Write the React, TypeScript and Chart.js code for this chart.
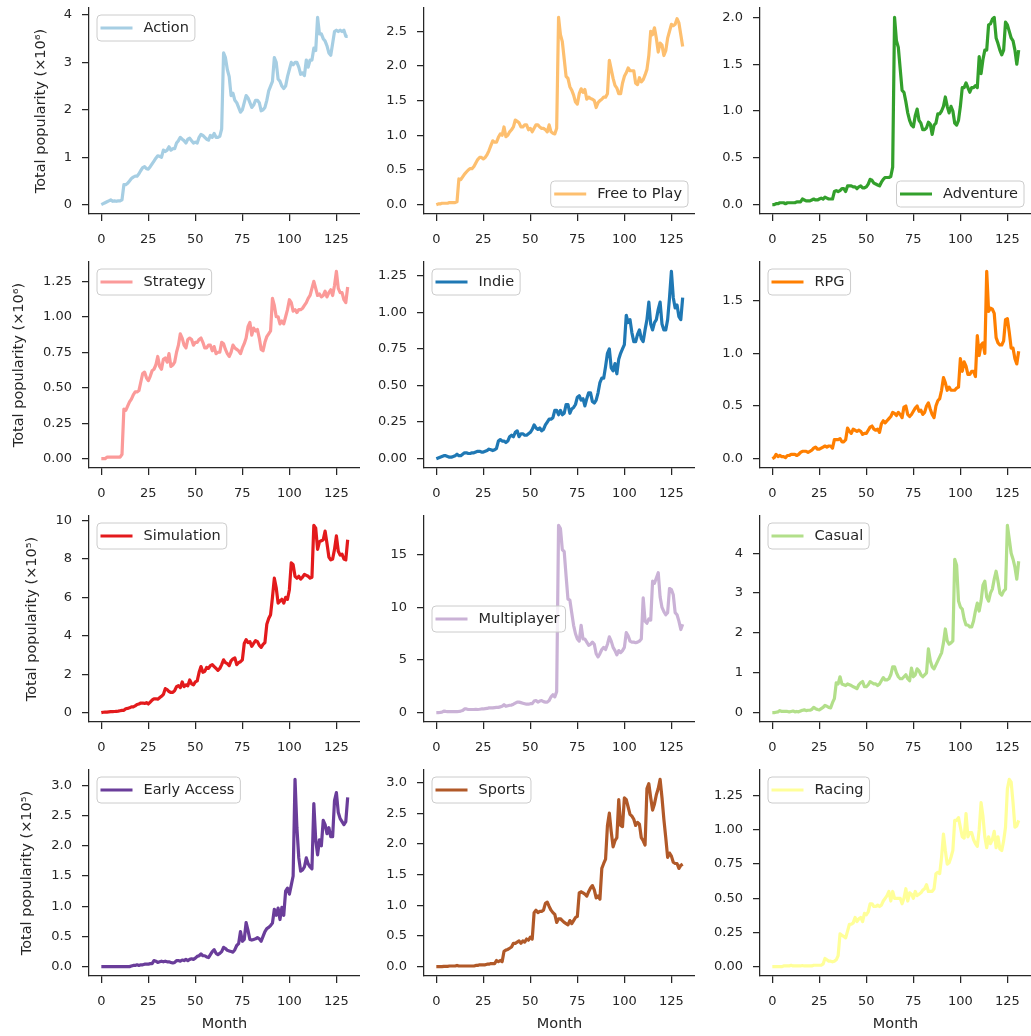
import React, { useEffect, useRef } from "react";
import { Chart, registerables } from "chart.js";

Chart.register(...registerables);

// ---------------- data ----------------
const MONTHS = Array.from({ length: 132 }, (_, i) => i);
const X_TICKS = [0, 25, 50, 75, 100, 125];

const GENRES = [
  "Action", "Free to Play", "Adventure",
  "Strategy", "Indie", "RPG",
  "Simulation", "Multiplayer", "Casual",
  "Early Access", "Sports", "Racing",
];

const COLORS = [
  "#a6cee3", "#fdbf6f", "#33a02c",
  "#fb9a99", "#1f78b4", "#ff7f00",
  "#e31a1c", "#cab2d6", "#b2df8a",
  "#6a3d9a", "#b15928", "#ffff99",
];

// rows 1-2 in units of 10^6, rows 3-4 in units of 10^5
const action = [
  0.00, 0.02, 0.04, 0.06, 0.08, 0.10, 0.07, 0.08, 0.07, 0.08,
  0.08, 0.10, 0.42, 0.42, 0.45, 0.50, 0.55, 0.58, 0.60, 0.60,
  0.65, 0.72, 0.78, 0.80, 0.76, 0.75, 0.80, 0.86, 0.92, 0.98,
  1.03, 1.02, 1.00, 1.15, 1.12, 1.15, 1.22, 1.15, 1.18, 1.18,
  1.30, 1.35, 1.42, 1.38, 1.35, 1.30, 1.38, 1.40, 1.35, 1.30,
  1.32, 1.30, 1.42, 1.48, 1.46, 1.42, 1.38, 1.36, 1.46, 1.42,
  1.50, 1.42, 1.42, 1.44, 1.60, 3.20, 3.10, 2.85, 2.70, 2.30,
  2.35, 2.20, 2.15, 2.05, 1.95, 2.00, 2.15, 2.30, 2.25, 2.15,
  2.05, 2.10, 2.20, 2.20, 2.15, 1.98, 2.00, 2.05, 2.20, 2.40,
  2.50, 2.60, 3.10, 3.00, 2.65, 2.60, 2.50, 2.45, 2.50, 2.70,
  2.85, 3.00, 2.95, 3.00, 3.00, 2.90, 2.75, 2.78, 2.72, 3.05,
  2.90, 3.05, 3.05, 3.30, 3.25, 3.95, 3.60, 3.60, 3.50, 3.45,
  3.35, 3.20, 3.15, 3.40, 3.65, 3.68, 3.65, 3.68, 3.65, 3.68,
  3.55, 3.55,
];

const freeToPlay = [
  0.00, 0.01, 0.01, 0.02, 0.02, 0.02, 0.02, 0.03, 0.03, 0.03,
  0.03, 0.04, 0.37, 0.36, 0.40, 0.44, 0.47, 0.50, 0.52, 0.52,
  0.55, 0.60, 0.65, 0.68, 0.68, 0.66, 0.68, 0.72, 0.78, 0.85,
  0.92, 0.90, 0.90, 0.97, 1.02, 1.00, 1.12, 0.98, 1.00, 1.05,
  1.08, 1.12, 1.22, 1.20, 1.18, 1.12, 1.12, 1.15, 1.15, 1.08,
  1.10, 1.05, 1.10, 1.15, 1.15, 1.12, 1.10, 1.10, 1.08, 1.05,
  1.15, 1.05, 1.03, 1.02, 1.10, 2.70, 2.45, 2.35, 2.10, 1.85,
  1.82, 1.70, 1.65, 1.58, 1.48, 1.45, 1.60, 1.67, 1.62, 1.66,
  1.52, 1.55, 1.53, 1.52, 1.50, 1.40, 1.47, 1.50, 1.52, 1.55,
  1.55, 1.60, 2.08, 1.95, 1.82, 1.72, 1.68, 1.60, 1.60, 1.75,
  1.85, 1.90, 1.97, 1.93, 1.93, 1.93, 1.75, 1.73, 1.83, 1.77,
  1.80, 1.87, 1.95, 2.15, 2.50, 2.45, 2.55, 2.40, 2.20, 2.33,
  2.30, 2.15, 2.22, 2.40, 2.50, 2.60, 2.58, 2.60, 2.68, 2.62,
  2.45, 2.28,
];

const adventure = [
  0.00, 0.00, 0.01, 0.01, 0.02, 0.02, 0.02, 0.01, 0.02, 0.02,
  0.02, 0.02, 0.02, 0.03, 0.03, 0.03, 0.06, 0.05, 0.04, 0.04,
  0.04, 0.05, 0.06, 0.05, 0.05, 0.06, 0.07, 0.06, 0.08, 0.07,
  0.06, 0.06, 0.06, 0.14, 0.15, 0.14, 0.15, 0.17, 0.17, 0.14,
  0.20, 0.20, 0.20, 0.19, 0.19, 0.17, 0.19, 0.20, 0.18, 0.18,
  0.19, 0.22, 0.27, 0.26, 0.23, 0.22, 0.21, 0.20, 0.24, 0.27,
  0.29, 0.29, 0.29, 0.30, 0.40, 2.00, 1.75, 1.68, 1.45, 1.22,
  1.20, 1.10, 0.98, 0.90, 0.85, 0.83, 0.95, 1.02, 0.90, 0.87,
  0.80, 0.80, 0.82, 0.88, 0.86, 0.75, 0.85, 0.87, 0.97, 0.97,
  1.00, 1.05, 1.15, 1.05, 0.98, 1.05, 1.00, 0.87, 0.85, 0.90,
  1.05, 1.25, 1.25, 1.30, 1.25, 1.20, 1.25, 1.25, 1.27, 1.25,
  1.58, 1.40, 1.55, 1.65, 1.65, 1.92, 1.93, 1.98, 2.00, 1.78,
  1.72, 1.65, 1.60, 1.65, 1.95, 1.92, 1.85, 1.78, 1.75, 1.65,
  1.50, 1.65,
];

const strategy = [
  0.00, 0.00, 0.00, 0.01, 0.01, 0.01, 0.01, 0.01, 0.01, 0.01,
  0.01, 0.03, 0.35, 0.34, 0.37, 0.40, 0.42, 0.45, 0.47, 0.47,
  0.48, 0.54, 0.60, 0.61, 0.57, 0.55, 0.58, 0.62, 0.63, 0.66,
  0.72, 0.65, 0.63, 0.70, 0.71, 0.68, 0.74, 0.65, 0.66, 0.68,
  0.75, 0.80, 0.88, 0.85, 0.80, 0.78, 0.84, 0.85, 0.84, 0.80,
  0.82, 0.82, 0.84, 0.85, 0.82, 0.78, 0.78, 0.80, 0.80, 0.76,
  0.79, 0.74, 0.75, 0.75, 0.82, 0.81, 0.77, 0.74, 0.72, 0.75,
  0.80, 0.78, 0.77, 0.76, 0.74, 0.78, 0.81, 0.85, 0.93, 0.96,
  0.87, 0.92, 0.90, 0.91, 0.85, 0.77, 0.76, 0.82, 0.86, 0.88,
  0.90, 1.13, 1.08, 1.00, 1.00, 0.95, 0.97, 0.95, 1.00, 1.05,
  1.12, 1.10, 1.04, 1.05, 1.03, 1.05, 1.05, 1.06, 1.08, 1.10,
  1.13, 1.15, 1.20, 1.25, 1.20, 1.15, 1.16, 1.14, 1.15, 1.18,
  1.14, 1.17, 1.19, 1.15, 1.22, 1.32, 1.20, 1.17, 1.17, 1.12,
  1.10, 1.21,
];

const indie = [
  0.00, 0.005, 0.01, 0.015, 0.02, 0.02, 0.015, 0.01, 0.01, 0.015,
  0.02, 0.03, 0.02, 0.02, 0.03, 0.04, 0.04, 0.035, 0.035, 0.04,
  0.04, 0.045, 0.05, 0.05, 0.045, 0.045, 0.05, 0.055, 0.065, 0.06,
  0.055, 0.06, 0.07, 0.12, 0.13, 0.12, 0.12, 0.11, 0.12, 0.15,
  0.16, 0.15, 0.18, 0.19, 0.15, 0.17, 0.17, 0.16, 0.16, 0.17,
  0.18, 0.20, 0.23, 0.21, 0.20, 0.21, 0.19, 0.20, 0.23, 0.25,
  0.27, 0.27, 0.28, 0.33, 0.33, 0.30, 0.33, 0.30, 0.31, 0.37,
  0.37, 0.31, 0.34, 0.35, 0.37, 0.42, 0.43, 0.40, 0.41, 0.36,
  0.41, 0.45, 0.45, 0.39, 0.38, 0.40, 0.45, 0.52, 0.55, 0.55,
  0.63, 0.72, 0.75, 0.62, 0.60, 0.65, 0.58, 0.68, 0.72, 0.75,
  0.78, 0.98, 0.93, 0.95, 0.86, 0.80, 0.80, 0.85, 0.88, 0.82,
  0.80, 0.88, 0.95, 1.07, 0.92, 0.88, 0.93, 0.95, 1.02, 1.07,
  0.92, 0.88, 0.88, 0.95, 1.10, 1.28, 1.10, 1.03, 1.05, 0.97,
  0.95, 1.10,
];

const rpg = [
  0.00, 0.01, 0.04, 0.02, 0.03, 0.02, 0.02, 0.01, 0.03, 0.03,
  0.04, 0.04, 0.04, 0.03, 0.04, 0.06, 0.07, 0.07, 0.07, 0.06,
  0.07, 0.08, 0.10, 0.11, 0.09, 0.09, 0.10, 0.11, 0.12, 0.11,
  0.12, 0.12, 0.10, 0.18, 0.18, 0.18, 0.19, 0.16, 0.16, 0.18,
  0.29, 0.26, 0.24, 0.28, 0.27, 0.26, 0.27, 0.26, 0.23, 0.24,
  0.24, 0.27, 0.30, 0.31, 0.28, 0.27, 0.28, 0.25, 0.33, 0.36,
  0.34, 0.36, 0.38, 0.40, 0.44, 0.43, 0.41, 0.44, 0.42, 0.39,
  0.49, 0.50, 0.42, 0.40, 0.42, 0.45, 0.48, 0.50, 0.45, 0.46,
  0.42, 0.44, 0.50, 0.53, 0.47, 0.42, 0.39, 0.50, 0.55, 0.57,
  0.65, 0.77, 0.72, 0.65, 0.68, 0.65, 0.65, 0.65, 0.67, 0.68,
  0.95, 0.83, 0.92, 0.88, 0.80, 0.80, 0.83, 0.83, 0.78, 1.17,
  0.98, 1.08, 1.10, 1.00, 1.78, 1.40, 1.43, 1.42, 1.38, 1.15,
  1.10, 1.08, 1.08, 1.12, 1.32, 1.33, 1.20, 1.05, 1.05, 0.95,
  0.90, 1.02,
];

const simulation = [
  0.00, 0.02, 0.03, 0.03, 0.04, 0.05, 0.05, 0.06, 0.07, 0.08,
  0.10, 0.12, 0.12, 0.20, 0.22, 0.25, 0.30, 0.30, 0.35, 0.42,
  0.45, 0.50, 0.50, 0.48, 0.52, 0.45, 0.55, 0.65, 0.72, 0.72,
  0.70, 0.78, 0.85, 0.95, 1.25, 1.20, 1.10, 1.05, 1.05, 1.15,
  1.35, 1.40, 1.30, 1.60, 1.35, 1.45, 1.40, 1.70, 1.50, 1.45,
  1.60, 1.65, 2.10, 2.40, 2.10, 2.15, 2.35, 2.30, 2.45, 2.50,
  2.40, 2.30, 2.20, 2.30, 2.50, 2.75, 2.60, 2.55, 2.45, 2.70,
  2.80, 2.85, 2.50, 2.60, 2.65, 2.75, 3.60, 3.80, 3.65, 3.70,
  3.45, 3.60, 3.75, 3.70, 3.50, 3.40, 3.55, 3.65, 4.60, 4.90,
  5.10, 6.00, 7.00, 6.50, 5.70, 5.80, 5.90, 5.70, 6.00, 5.90,
  6.40, 7.80, 7.70, 7.10, 7.00, 7.10, 6.95, 7.05, 7.20, 7.15,
  7.10, 7.00, 7.05, 9.75, 9.60, 8.50, 8.90, 8.95, 9.00, 9.45,
  8.80, 8.10, 7.95, 8.00, 8.50, 9.20, 8.40, 8.20, 8.25, 8.00,
  7.95, 9.00,
];

const multiplayer = [
  0.00, 0.00, 0.02, 0.05, 0.15, 0.12, 0.10, 0.10, 0.10, 0.10,
  0.10, 0.10, 0.12, 0.15, 0.20, 0.35, 0.35, 0.30, 0.30, 0.30,
  0.30, 0.32, 0.30, 0.32, 0.35, 0.35, 0.38, 0.40, 0.45, 0.45,
  0.45, 0.48, 0.50, 0.50, 0.55, 0.60, 0.75, 0.60, 0.65, 0.70,
  0.72, 0.80, 0.90, 1.00, 1.00, 0.95, 0.90, 0.85, 0.80, 0.80,
  0.85, 0.85, 1.10, 1.15, 1.00, 1.10, 1.15, 1.05, 1.00, 1.00,
  1.15, 1.50, 1.70, 1.50, 2.00, 17.80, 17.50, 15.50, 15.30, 13.00,
  10.80, 10.70, 9.50, 8.30, 7.50, 7.00, 6.80, 8.30, 7.00, 7.00,
  6.70, 6.40, 6.50, 6.70, 6.50, 5.60, 5.30, 5.60, 6.00, 6.20,
  6.00, 6.50, 7.20, 6.80, 6.20, 5.90, 5.50, 5.90, 5.70, 5.90,
  6.20, 7.60, 7.30, 6.80, 6.70, 6.70, 6.65, 6.70, 6.80, 7.00,
  10.90, 8.70, 8.50, 8.90, 8.80, 12.50, 12.30, 12.80, 13.30, 11.00,
  10.00, 9.60, 9.30, 9.50, 11.80, 11.70, 11.20, 9.50, 9.30, 8.70,
  7.90, 8.40,
];

const casual = [
  0.00, 0.00, 0.01, 0.02, 0.05, 0.03, 0.03, 0.03, 0.03, 0.02,
  0.03, 0.04, 0.02, 0.03, 0.02, 0.04, 0.06, 0.07, 0.05, 0.06,
  0.06, 0.08, 0.13, 0.10, 0.08, 0.07, 0.10, 0.13, 0.18, 0.16,
  0.13, 0.12, 0.25, 0.35, 0.75, 0.72, 0.90, 0.72, 0.70, 0.68,
  0.72, 0.70, 0.68, 0.65, 0.63, 0.60, 0.70, 0.75, 0.78, 0.65,
  0.65, 0.70, 0.78, 0.75, 0.72, 0.72, 0.68, 0.72, 0.80, 0.88,
  0.82, 0.82, 0.85, 0.95, 1.15, 1.15, 1.00, 0.90, 0.85, 0.85,
  0.90, 0.95, 0.85, 0.80, 1.12, 0.90, 0.95, 1.10, 1.05, 0.95,
  0.90, 0.95, 1.00, 1.60, 1.30, 1.15, 1.10, 1.20, 1.30, 1.40,
  1.50, 1.75, 2.10, 1.80, 1.72, 1.75, 1.80, 3.85, 3.70, 2.80,
  2.65, 2.60, 2.35, 2.20, 2.20, 2.15, 2.15, 2.30, 2.55, 2.75,
  2.55, 2.80, 3.20, 3.30, 2.90, 2.80, 3.00, 3.10, 3.35, 3.55,
  3.30, 3.00, 2.95, 3.05, 3.10, 4.70, 4.35, 4.00, 3.85, 3.65,
  3.35, 3.80,
];

const earlyAccess = [
  0.00, 0.00, 0.00, 0.00, 0.00, 0.00, 0.00, 0.00, 0.00, 0.00,
  0.00, 0.00, 0.00, 0.00, 0.00, 0.00, 0.01, 0.02, 0.02, 0.03,
  0.02, 0.03, 0.03, 0.04, 0.04, 0.04, 0.05, 0.05, 0.10, 0.09,
  0.07, 0.08, 0.09, 0.08, 0.09, 0.08, 0.08, 0.07, 0.06, 0.07,
  0.10, 0.10, 0.09, 0.11, 0.10, 0.12, 0.10, 0.12, 0.13, 0.12,
  0.14, 0.17, 0.18, 0.21, 0.18, 0.18, 0.16, 0.15, 0.20, 0.25,
  0.28, 0.22, 0.20, 0.22, 0.25, 0.32, 0.30, 0.27, 0.26, 0.25,
  0.24, 0.28, 0.35, 0.38, 0.58, 0.42, 0.45, 0.73, 0.60, 0.45,
  0.44, 0.45, 0.46, 0.48, 0.46, 0.42, 0.50, 0.58, 0.63, 0.65,
  0.68, 0.72, 0.95, 0.85, 0.97, 0.78, 0.98, 0.85, 1.25, 1.30,
  1.20, 1.35, 1.50, 3.10, 2.30, 1.80, 1.58, 1.60, 1.65, 1.80,
  1.70, 1.65, 1.62, 2.70, 2.10, 1.85, 2.10, 2.00, 2.42, 2.35,
  2.20, 2.30, 2.15, 2.15, 2.75, 2.88, 2.55, 2.45, 2.40, 2.35,
  2.40, 2.80,
];

const sports = [
  0.00, 0.00, 0.00, 0.00, 0.005, 0.005, 0.005, 0.01, 0.01, 0.01,
  0.01, 0.02, 0.01, 0.01, 0.01, 0.01, 0.01, 0.01, 0.01, 0.01,
  0.01, 0.02, 0.02, 0.03, 0.03, 0.03, 0.03, 0.04, 0.04, 0.05,
  0.05, 0.05, 0.10, 0.08, 0.10, 0.08, 0.25, 0.27, 0.28, 0.30,
  0.32, 0.38, 0.38, 0.40, 0.42, 0.38, 0.42, 0.40, 0.45, 0.43,
  0.48, 0.45, 0.88, 0.92, 0.88, 0.90, 0.90, 0.92, 1.03, 1.05,
  0.98, 0.92, 0.88, 0.85, 0.72, 0.78, 0.78, 0.75, 0.72, 0.70,
  0.68, 0.75, 0.70, 0.75, 0.80, 0.82, 1.20, 1.22, 1.20, 1.18,
  1.15, 1.22, 1.28, 1.32, 1.25, 1.12, 1.15, 1.10, 1.60, 1.68,
  1.75, 2.30, 2.50, 2.20, 1.95, 2.05, 2.10, 2.72, 2.30, 2.28,
  2.75, 2.72, 2.60, 2.48, 2.45, 2.40, 2.30, 2.35, 2.32, 2.10,
  2.05, 1.98, 2.90, 2.98, 2.75, 2.55, 2.65, 2.80, 2.90, 3.05,
  2.75, 2.40, 2.10, 1.78, 1.85, 1.80, 1.70, 1.68, 1.68, 1.60,
  1.65, 1.67,
];

const racing = [
  0.00, 0.00, 0.00, 0.00, 0.00, 0.00, 0.005, 0.005, 0.005, 0.005,
  0.01, 0.005, 0.005, 0.005, 0.005, 0.005, 0.008, 0.005, 0.005, 0.005,
  0.005, 0.005, 0.01, 0.01, 0.01, 0.01, 0.01, 0.02, 0.06, 0.05,
  0.04, 0.04, 0.035, 0.04, 0.05, 0.08, 0.24, 0.23, 0.22, 0.21,
  0.26, 0.31, 0.31, 0.32, 0.36, 0.33, 0.35, 0.36, 0.33, 0.39,
  0.38, 0.40, 0.46, 0.46, 0.44, 0.44, 0.45, 0.44, 0.45, 0.48,
  0.50, 0.52, 0.55, 0.48, 0.55, 0.50, 0.50, 0.50, 0.50, 0.46,
  0.50, 0.57, 0.48, 0.54, 0.53, 0.50, 0.55, 0.52, 0.53, 0.54,
  0.56, 0.57, 0.60, 0.55, 0.55, 0.55, 0.57, 0.68, 0.69, 0.68,
  0.80, 0.97, 0.85, 0.75, 0.76, 0.80, 0.85, 1.07, 1.07, 1.09,
  1.02, 0.95, 0.94, 1.12, 0.95, 0.98, 0.98, 0.93, 0.90, 0.88,
  1.00, 1.20, 1.10, 0.95, 0.87, 0.95, 0.90, 0.93, 0.99, 0.87,
  0.95, 0.86, 0.85, 0.92, 1.02, 1.30, 1.37, 1.35, 1.20, 1.02,
  1.03, 1.07,
];

const SERIES = [
  action, freeToPlay, adventure,
  strategy, indie, rpg,
  simulation, multiplayer, casual,
  earlyAccess, sports, racing,
];

const Y_STEP = [1, 0.5, 0.5, 0.25, 0.25, 0.5, 2, 5, 1, 0.5, 0.5, 0.25];
const Y_DEC = [0, 1, 1, 2, 2, 1, 0, 0, 0, 1, 1, 2];
const ROW_EXP = ["⁶", "⁶", "⁵", "⁵"];
const LEGEND_LOC = [
  "upper left", "lower right", "lower right",
  "upper left", "upper left", "upper left",
  "upper left", "center left", "upper left",
  "upper left", "upper left", "upper left",
];

// ---------------- layout ----------------
const COL_LEFT = [89, 424, 760];
const ROW_TOP = [8, 262, 516, 770];
const AW = 271;
const AH = 206;
const YW = 89;
const PT = 8;
const XH = 60;
const YTITLE_CX = [41, 19, 32, 27];

const FONT = "'DejaVu Sans', 'Liberation Sans', sans-serif";
const INK = "#262626";
const LINE_W = 3.2;

const boxLegend = {
  id: "boxLegend",
  afterDatasetsDraw(chart: any, _args: any, opts: any) {
    const { ctx, chartArea: ca } = chart;
    const ds = chart.data.datasets[0];
    ctx.save();
    ctx.font = `14.5px ${FONT}`;
    const tw = ctx.measureText(ds.label).width;
    const w = 46.5 + tw + 6;
    const h = 26;
    let x: number, y: number;
    if (opts.loc === "upper left") {
      x = ca.left + 8;
      y = ca.top + 7;
    } else if (opts.loc === "lower right") {
      x = ca.right - 7 - w;
      y = ca.bottom - 7 - h;
    } else {
      x = ca.left + 8;
      y = (ca.top + ca.bottom) / 2 - h / 2;
    }
    const r = 4;
    ctx.beginPath();
    ctx.moveTo(x + r, y);
    ctx.lineTo(x + w - r, y);
    ctx.arcTo(x + w, y, x + w, y + r, r);
    ctx.lineTo(x + w, y + h - r);
    ctx.arcTo(x + w, y + h, x + w - r, y + h, r);
    ctx.lineTo(x + r, y + h);
    ctx.arcTo(x, y + h, x, y + h - r, r);
    ctx.lineTo(x, y + r);
    ctx.arcTo(x, y, x + r, y, r);
    ctx.closePath();
    ctx.fillStyle = "rgba(255,255,255,0.8)";
    ctx.fill();
    ctx.strokeStyle = "#cccccc";
    ctx.lineWidth = 1;
    ctx.stroke();
    const cy = y + h / 2;
    ctx.beginPath();
    ctx.moveTo(x + 3.5, cy);
    ctx.lineTo(x + 35.5, cy);
    ctx.strokeStyle = ds.borderColor;
    ctx.lineWidth = LINE_W;
    ctx.stroke();
    ctx.fillStyle = INK;
    ctx.textBaseline = "middle";
    ctx.textAlign = "left";
    ctx.fillText(ds.label, x + 46.5, cy + 0.5);
    ctx.restore();
  },
};

function Panel({ idx }: { idx: number }) {
  const ref = useRef<HTMLCanvasElement>(null);
  const row = Math.floor(idx / 3);
  const col = idx % 3;
  const left = COL_LEFT[col] - YW;
  const top = ROW_TOP[row] - PT;
  const w = YW + AW;
  const h = PT + AH + XH;

  useEffect(() => {
    const values = SERIES[idx];
    const lo = Math.min(...values);
    const hi = Math.max(...values);
    const pad = (hi - lo) * 0.05;
    const ymin = lo - pad;
    const ymax = hi + pad;
    const step = Y_STEP[idx];
    const yTicks: number[] = [];
    for (let k = Math.ceil(ymin / step); k * step <= ymax + 1e-9; k++) yTicks.push(k * step + 0);
    const first = MONTHS[0];
    const last = MONTHS[MONTHS.length - 1];
    const xmin = first - (last - first) * 0.05;
    const xmax = last + (last - first) * 0.05;

    const gridOpts = {
      display: true,
      drawOnChartArea: false,
      drawTicks: true,
      tickLength: 7,
      tickColor: INK,
      tickWidth: 1.25,
      color: INK,
      lineWidth: 1.25,
    };

    const chart = new Chart(ref.current as HTMLCanvasElement, {
      type: "line",
      data: {
        datasets: [
          {
            label: GENRES[idx],
            data: values.map((v, i) => ({ x: MONTHS[i], y: v })),
            borderColor: COLORS[idx],
            backgroundColor: COLORS[idx],
            borderWidth: LINE_W,
            pointRadius: 0,
            tension: 0,
            fill: false,
            borderJoinStyle: "round",
            borderCapStyle: "butt",
          } as any,
        ],
      },
      options: {
        animation: false,
        responsive: false,
        devicePixelRatio: 1,
        events: [],
        layout: { padding: { top: PT, left: 0, right: 0, bottom: 0 } },
        plugins: {
          legend: { display: false },
          tooltip: { enabled: false },
          boxLegend: { loc: LEGEND_LOC[idx] },
        } as any,
        scales: {
          x: {
            type: "linear",
            min: xmin,
            max: xmax,
            afterBuildTicks: (s: any) => {
              s.ticks = X_TICKS.map((v) => ({ value: v }));
            },
            afterFit: (s: any) => {
              s.height = XH;
              s.paddingLeft = 0;
              s.paddingRight = 0;
              s.paddingTop = 0;
              s.paddingBottom = 0;
            },
            grid: gridOpts,
            border: { display: true, color: INK, width: 1.25 },
            ticks: {
              autoSkip: false,
              maxRotation: 0,
              color: INK,
              padding: 11,
              font: { family: FONT, size: 13 },
              callback: (v: any) => String(v),
            },
            title: {
              display: row === 3,
              text: "Month",
              color: INK,
              font: { family: FONT, size: 14.5 },
              padding: { top: 0, bottom: 3 },
            },
          },
          y: {
            type: "linear",
            min: ymin,
            max: ymax,
            afterBuildTicks: (s: any) => {
              s.ticks = yTicks.map((v) => ({ value: v }));
            },
            afterFit: (s: any) => {
              s.width = YW;
              s.paddingLeft = 0;
              s.paddingRight = 0;
              s.paddingTop = 0;
              s.paddingBottom = 0;
            },
            grid: gridOpts,
            border: { display: true, color: INK, width: 1.25 },
            ticks: {
              autoSkip: false,
              color: INK,
              padding: 10,
              font: { family: FONT, size: 13 },
              callback: (v: any) => Number(v).toFixed(Y_DEC[idx]),
            },
            title: {
              display: col === 0,
              text: `Total popularity (×10${ROW_EXP[row]})`,
              color: INK,
              font: { family: FONT, size: 14.5 },
              padding: { top: YTITLE_CX[row] - 8.7, bottom: 0 },
            },
          },
        },
      } as any,
      plugins: [boxLegend as any],
    });
    return () => chart.destroy();
  }, [idx]);

  return (
    <canvas
      ref={ref}
      width={w}
      height={h}
      style={{ position: "absolute", left, top, width: w, height: h }}
    />
  );
}

export default function App() {
  return (
    <div
      style={{
        position: "absolute",
        left: 0,
        top: 0,
        width: 1031,
        height: 1036,
        background: "#ffffff",
        overflow: "hidden",
      }}
    >
      {SERIES.map((_, i) => (
        <Panel key={i} idx={i} />
      ))}
    </div>
  );
}
